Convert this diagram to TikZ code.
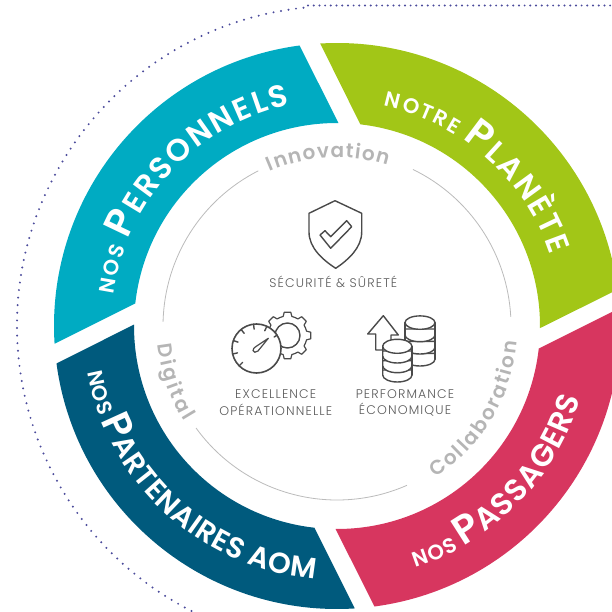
\documentclass[tikz,border=0pt]{standalone}
\usepackage{fontspec}
\usetikzlibrary{decorations.text}
\newfontfamily\popl[LetterSpace=9]{Poppins Light}
\newfontfamily\pops{Poppins SemiBold}
\definecolor{cteal}{HTML}{00ABC2}
\definecolor{cgreen}{HTML}{A2C617}
\definecolor{cpink}{HTML}{D7365F}
\definecolor{cdark}{HTML}{005A7D}
\definecolor{cgray}{HTML}{B5B5B5}
\definecolor{cline}{HTML}{BBBBBB}
\definecolor{cdots}{HTML}{4B4B9B}
\definecolor{cicon}{HTML}{4A4A4A}
\definecolor{clabel}{HTML}{5A5A5A}
\newcommand{\seg}[2]{\fill[#1] (#2:203) -- (#2+8:283) arc[start angle=#2+8, end angle=#2+94, radius=283] -- (#2+84:203) arc[start angle=#2+84, end angle=#2, radius=203] -- cycle;}
\newcommand{\fa}{\color{white}\pops\fontsize{21}{21}\selectfont}
\newcommand{\fb}{\color{white}\pops\fontsize{40}{40}\selectfont}
\newcommand{\fc}{\color{white}\pops\fontsize{31}{31}\selectfont}
\newcommand{\fd}{\color{white}\pops\fontsize{29}{29}\selectfont}
\newcommand{\fg}{\color{cgray}\pops\fontsize{20}{20}\selectfont}
\newcommand{\arctext}[4]{\path[decorate,decoration={text along path,text align=fit to path,text={#4}}] (#2:#1) arc[start angle=#2,end angle=#3,radius=#1];}
\tikzset{
  iconline/.style={draw=cicon,line width=1.4pt,line join=round,line cap=round},
  coin/.style={iconline,fill=white},
  lab/.style={text=clabel,font=\popl\fontsize{12.5}{12.5}\selectfont,inner sep=0pt,anchor=center},
  grayarc/.style={draw=cline,line width=0.8pt},
  dotted line/.style={draw=cdots,line width=2.2pt,line cap=round}
}
\begin{document}
\begin{tikzpicture}[x=1pt,y=1pt]
\useasboundingbox (0,0) rectangle (612,611);
\clip (0,0) rectangle (612,611);
\begin{scope}[shift={(337,285)}]
  \draw[dotted line,dash pattern=on 0pt off 7.6pt] (96:320) arc[start angle=96,end angle=243.5,radius=320];
  \seg{cteal}{89.6}
  \seg{cdark}{179.6}
  \seg{cpink}{269.6}
  \seg{cgreen}{-0.6}
  \draw[grayarc] (178.6:174) arc[start angle=178.6,end angle=116.9,radius=174];
  \draw[grayarc] (64.1:174) arc[start angle=64.1,end angle=3,radius=174];
  \draw[grayarc] (293.7:174) arc[start angle=293.7,end angle=215.9,radius=174];
  \arctext{226}{172}{102}{|\fa|NOS|| |\fb|P|||\fc|ERSONNELS||}
  \arctext{225}{78}{18.5}{|\fa|NOTRE|| |\fb|P|||\fc|LANÈTE||}
  \arctext{254}{288}{343.5}{|\fa|NOS|| |\fb|P|||\fc|ASSAGERS||}
  \arctext{254}{190.5}{265}{|\fa|NOS|| |\fb|P|||\fd|ARTENAIRES AOM||}
  \arctext{168.5}{113.5}{72.5}{|\fg|Innovation||}
  \arctext{180}{186}{212}{|\fg|Digital||}
  \arctext{181}{303}{355}{|\fg|Collaboration||}
\end{scope}
\draw[dotted line,dash pattern=on 0pt off 5.7pt] (308,605.5) -- (612,605.5);
\begin{scope}[shift={(0,611)},yscale=-1]
  \draw[iconline] (335,200.7) -- (361.7,213.3) -- (361.7,232) .. controls (361.7,248) and (348,260) .. (335.7,268.3) .. controls (323,260) and (309,248) .. (309,232) -- (309,213.3) -- cycle;
  \draw[iconline] (320,235) -- (325,230.7) -- (330.7,236.7) -- (346.7,220.7) -- (351.7,226.7) -- (330.7,248.3) -- cycle;
  \begin{scope}[shift={(287.5,335.5)}]
    \draw[iconline,line width=1.2pt] (-13:19.5) foreach \a in {0,45,...,315} { -- (\a-13:19.5) -- (\a-8:23.5) -- (\a+8:23.5) -- (\a+13:19.5) arc[start angle=\a+13,end angle=\a+32,radius=19.5] } -- cycle;
    \draw[iconline] (0,0) circle[radius=12.5];
  \end{scope}
  \begin{scope}[shift={(256.5,348.5)}]
    \draw[iconline,fill=white,line width=1.6pt] (0,0) circle[radius=24.5];
    \foreach \a in {225,193,161,129,97,65} \draw[iconline] (-\a:24.5) -- (-\a:19.5);
    \draw[iconline] (-33:24.5) -- (-33:21);
    \draw[iconline,line width=1.2pt] (11.8,-10.2) -- (1.5,2.5) .. controls (-0.5,4.5) and (-3.5,4) .. (-3.5,2) .. controls (-3.5,0) and (-2,-1) .. (-0.5,-2) -- cycle;
  \end{scope}
  \draw[iconline] (383.3,315.7) -- (398.3,335) -- (391,335) -- (391,340) (383.3,350) -- (375.7,350) -- (375.7,334) -- (367.7,334) -- (383.3,315.7);
  \foreach \y in {359.3,347.3,335} \draw[coin] (405,\y) -- (405,\y-6) -- (435,\y-6) -- (435,\y) arc[start angle=0,end angle=180,x radius=15,y radius=6.7];
  \draw[coin] (420,322.6) circle[x radius=15,y radius=6.7];
  \draw[iconline] (405,322.6) -- (405,359.3) (435,322.6) -- (435,359.3);
  \foreach \y in {375,365.7,356} \draw[coin] (382.7,\y) -- (382.7,\y-5) -- (412,\y-5) -- (412,\y) arc[start angle=0,end angle=180,x radius=14.65,y radius=7];
  \draw[coin] (397.3,346.3) circle[x radius=14.65,y radius=7];
  \draw[iconline] (382.7,346.3) -- (382.7,375) (412,346.3) -- (412,375);
  \node[lab] (secu) at (333.3,281.7) {SÉCURITÉ \& SÛRETÉ};
  \node[lab] (exc) at (275.7,394) {EXCELLENCE};
  \node[lab] (ope) at (275.7,409.5) {OPÉRATIONNELLE};
  \node[lab] (perf) at (405,394) {PERFORMANCE};
  \node[lab] (eco) at (405,409.5) {ÉCONOMIQUE};
\end{scope}
\end{tikzpicture}
\end{document}
